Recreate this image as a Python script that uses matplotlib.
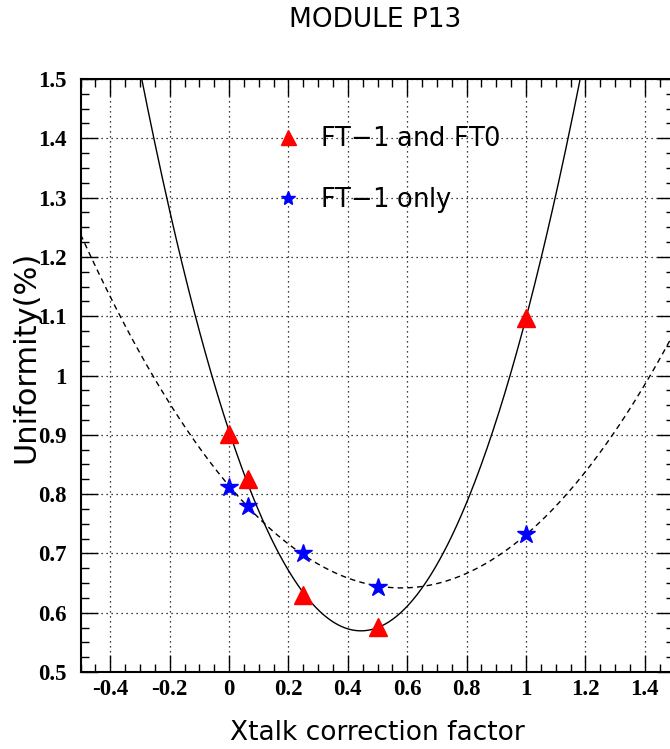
import numpy as np
import matplotlib.pyplot as plt
from matplotlib.ticker import MultipleLocator

xtalk = [0.0, 0.0625, 0.25, 0.5, 1.0]
unif_ft1_ft0 = [0.902, 0.825, 0.630, 0.576, 1.097]
unif_ft1_only = [0.812, 0.780, 0.700, 0.643, 0.732]

fig = plt.figure(figsize=(6.70, 7.49), dpi=100)
ax = fig.add_axes([0.1203, 0.1028, 0.8864, 0.7917])

# second-order fits drawn as the curves
xs = np.linspace(-0.5, 1.5, 400)
c1 = np.polyfit(xtalk, unif_ft1_ft0, 2)
c2 = np.polyfit(xtalk, unif_ft1_only, 2)
ax.plot(xs, np.polyval(c1, xs), color="black", lw=1.0)
ax.plot(xs, np.polyval(c2, xs), color="black", lw=1.0, ls=(0, (4, 3)))

ax.plot(xtalk, unif_ft1_ft0, "^", color="red", ms=13.5, mec="red", ls="none",
        label="FT$-$1 and FT0")
ax.plot(xtalk, unif_ft1_only, "*", color="blue", ms=13.5, mec="blue", ls="none",
        label="FT$-$1 only")

ax.set_xlim(-0.5, 1.5)
ax.set_ylim(0.5, 1.5)
ax.xaxis.set_major_locator(MultipleLocator(0.2))
ax.xaxis.set_minor_locator(MultipleLocator(0.05))
ax.yaxis.set_major_locator(MultipleLocator(0.1))
ax.yaxis.set_minor_locator(MultipleLocator(0.025))
ax.xaxis.set_major_formatter(plt.FuncFormatter(lambda v, p: f"{v:g}" if abs(v) > 1e-9 else "0"))
ax.yaxis.set_major_formatter(plt.FuncFormatter(lambda v, p: f"{v:g}"))
ax.tick_params(which="both", direction="in", top=True, right=True)
ax.tick_params(which="major", length=12, width=1)
ax.tick_params(which="minor", length=6, width=1)
for lab in ax.get_xticklabels() + ax.get_yticklabels():
    lab.set_fontfamily("Liberation Serif")
    lab.set_fontweight("bold")
    lab.set_fontsize(16.5)
ax.tick_params(axis="x", pad=5)
ax.tick_params(axis="y", pad=10)
for sp in ax.spines.values():
    sp.set_linewidth(1.5)
ax.grid(True, which="major", color="black", ls=(0, (1, 3)), lw=0.9)

fig.text(0.563, 0.0214, "Xtalk correction factor", fontsize=19,
         ha="center", va="center")
fig.text(0.039, 0.523, "Uniformity(%)", rotation=90, fontsize=22,
         ha="center", va="center")
fig.text(0.56, 0.973, "MODULE P13", fontsize=19, ha="center", va="center")

ax.legend(loc="upper left", bbox_to_anchor=(0.310, 0.9376), frameon=False,
          fontsize=18.5, handletextpad=0.74, labelspacing=1.26,
          handlelength=1.0, markerscale=0.8, borderaxespad=0)

fig.savefig("out.png", dpi=100)
